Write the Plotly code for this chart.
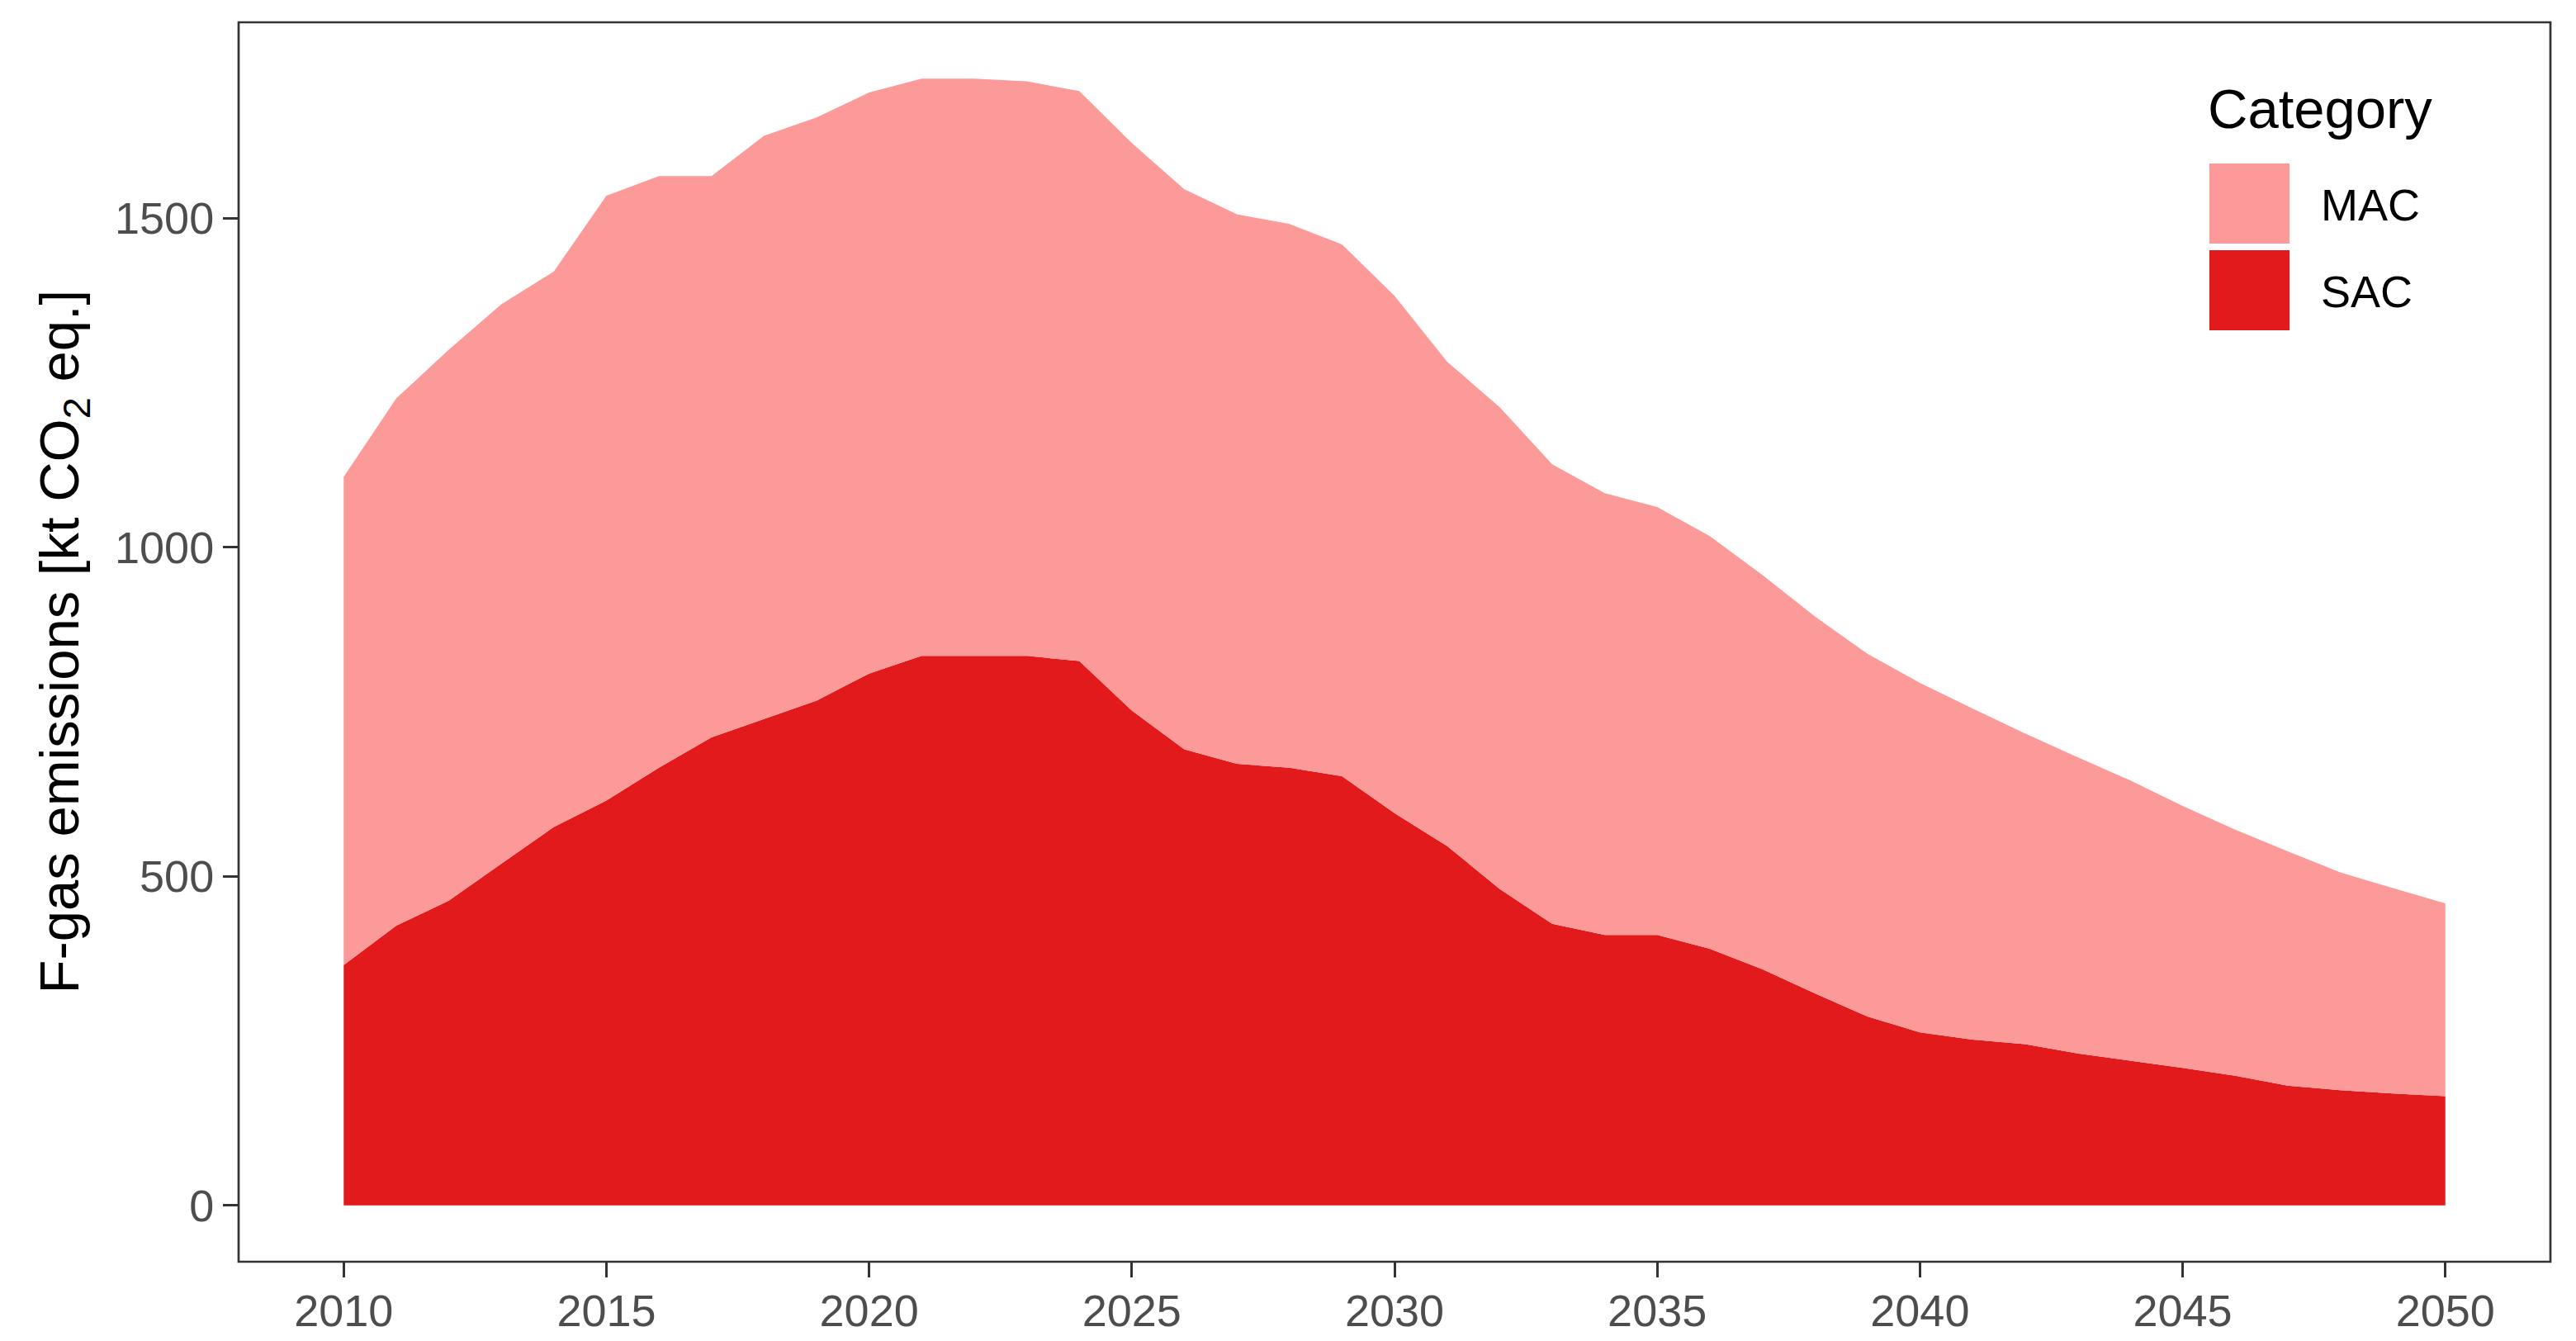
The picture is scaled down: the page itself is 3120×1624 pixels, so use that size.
import plotly.graph_objects as go

years = list(range(2010, 2051))
sac = [365, 425, 463, 519, 575, 615, 665, 711, 739, 767, 808, 835, 835, 835, 827,
       752, 693, 671, 665, 652, 596, 546, 481, 428, 411, 411, 390, 359, 322, 287,
       263, 252, 245, 231, 220, 209, 197, 182, 175, 170, 166]
mac = [742, 801, 837, 850, 844, 919, 899, 853, 886, 886, 883, 877, 877, 873, 866,
       862, 851, 835, 826, 808, 786, 736, 732, 698, 671, 650, 627, 599, 573, 551,
       531, 503, 472, 450, 426, 398, 374, 356, 331, 312, 293]
categories = ["MAC", "SAC"]
colors = {"MAC": "#FB9A99", "SAC": "#E31A1C"}
x_ticks = [2010, 2015, 2020, 2025, 2030, 2035, 2040, 2045, 2050]
y_ticks = [0, 500, 1000, 1500]

W, H = 3120, 1624
L, R, T, B = 289, 31, 27, 96
PW, PH = W - L - R, H - T - B

FONT = "Liberation Sans, Arial, sans-serif"

fig = go.Figure()
fig.add_trace(go.Scatter(x=years, y=sac, name="SAC", stackgroup="one", mode="none",
                         fillcolor=colors["SAC"], line=dict(width=0), showlegend=False))
fig.add_trace(go.Scatter(x=years, y=mac, name="MAC", stackgroup="one", mode="none",
                         fillcolor=colors["MAC"], line=dict(width=0), showlegend=False))

ymax = max(s + m for s, m in zip(sac, mac))
xr = [years[0] - 0.05 * (years[-1] - years[0]), years[-1] + 0.05 * (years[-1] - years[0])]

axis_common = dict(showgrid=False, zeroline=False, ticks="outside", ticklen=18,
                   tickwidth=2.7, tickcolor="#333333", automargin=False,
                   tickfont=dict(family=FONT, size=54, color="#4D4D4D"),
                   showline=False)
fig.update_xaxes(range=xr, tickvals=x_ticks, ticklabelstandoff=-6, **axis_common)
fig.update_yaxes(range=[-0.05 * ymax, 1.05 * ymax], tickvals=y_ticks,
                 ticklabelstandoff=0, **axis_common)


def px(X):
    return (X - L) / PW


def py(Y):
    return (H - B - Y) / PH


shapes = [dict(type="rect", xref="paper", yref="paper", x0=0, x1=1, y0=0, y1=1,
               line=dict(color="#333333", width=2.7), fillcolor="rgba(0,0,0,0)", layer="above")]
annotations = [dict(text="F-gas emissions [kt CO<sub>2</sub> eq.]", xref="paper", yref="paper",
                    x=px(76), y=0.5, xanchor="center", yanchor="middle", textangle=-90,
                    showarrow=False, font=dict(family=FONT, size=67, color="black")),
               dict(text="Category", xref="paper", yref="paper", x=px(2672), y=py(132),
                    xanchor="left", yanchor="middle", showarrow=False,
                    font=dict(family=FONT, size=67, color="black"))]

# custom legend keys
key_tops = {"MAC": 198, "SAC": 303}
for cat in categories:
    t = key_tops[cat]
    shapes.append(dict(type="rect", xref="paper", yref="paper", x0=px(2676), x1=px(2773),
                       y0=py(t + 97), y1=py(t), line=dict(width=0), fillcolor=colors[cat]))
    annotations.append(dict(text=cat, xref="paper", yref="paper", x=px(2809), y=py(t + 50),
                            xanchor="left", yanchor="middle", showarrow=False,
                            font=dict(family=FONT, size=54, color="black")))

fig.update_layout(width=W, height=H, margin=dict(l=L, r=R, t=T, b=B, pad=0, autoexpand=False),
                  plot_bgcolor="white", paper_bgcolor="white", showlegend=False,
                  shapes=shapes, annotations=annotations)

fig.write_html("out.html", config={"displayModeBar": False},
               post_script="document.body.style.margin='0';document.body.style.overflow='hidden';")
